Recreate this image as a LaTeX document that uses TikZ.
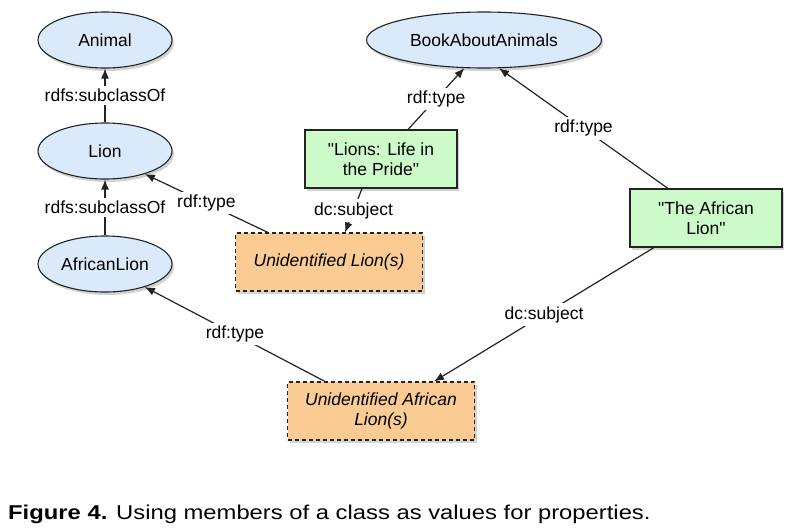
\documentclass[tikz,border=0pt]{standalone}
\usepackage{fontspec}
\setmainfont{Liberation Sans}
\usetikzlibrary{arrows,arrows.meta,shapes,positioning,shadows,calc}
\definecolor{classblue}{RGB}{218,234,250}
\definecolor{litgreen}{RGB}{204,250,200}
\definecolor{anonorange}{RGB}{250,204,148}
\definecolor{edgegray}{RGB}{35,35,35}
\tikzset{
  basic/.style  = {draw=edgegray, line width=1.1pt, font=\fontsize{17.5}{20.5}\selectfont,
                   drop shadow={opacity=0.35, shadow xshift=2pt, shadow yshift=-3pt}},
  class/.style  = {basic, ellipse, fill=classblue, minimum height=56pt},
  literal/.style = {basic, rectangle, fill=litgreen, align=center,
                   minimum width=152pt, minimum height=58pt},
  anon/.style   = {basic, rectangle, fill=anonorange, align=center, dashed,
                   dash pattern=on 4pt off 3pt, font=\fontsize{17.5}{20.5}\selectfont\itshape,
                   minimum width=187pt, minimum height=58pt},
  prop/.style   = {fill=white, inner sep=3pt, font=\fontsize{17.5}{20}\selectfont},
  link/.style   = {->, draw=edgegray, line width=1.2pt}
}
\begin{document}
\begin{tikzpicture}[x=1pt, y=-1pt, >={Latex[length=10pt,width=8pt]}]
\useasboundingbox (0,0) rectangle (797,528);

% classes
\node[class, minimum width=134pt] (animal) at (105,40) {Animal};
\node[class, minimum width=134pt] (lion) at (105,151) {Lion};
\node[class, minimum width=134pt] (africanlion) at (105,264) {AfricanLion};
\node[class, minimum width=235pt] (book) at (484,40) {BookAboutAnimals};

% literals and blank nodes
\node[literal] (lionsbook) at (381,159) {\textquotedbl Lions: Life in\\the Pride\textquotedbl};
\node[literal] (africanbook) at (706,218) {\textquotedbl The African\\Lion\textquotedbl};
\node[anon] (unlion) at (329,262) {Unidentified Lion(s)};
\node[anon] (unafrican) at (381,411) {Unidentified African\\Lion(s)};

% end points on the box edges
\coordinate (ul1) at ($(unlion.north west)+(33,0)$);
\coordinate (lb1) at ($(lionsbook.north)+(27,0)$);
\coordinate (lb2) at ($(lionsbook.south)+(-19,0)$);
\coordinate (ul2) at ($(unlion.north)+(16,0)$);
\coordinate (ab1) at ($(africanbook.north)+(-38,0)$);
\coordinate (ab2) at ($(africanbook.south)+(-52,0)$);
\coordinate (ua1) at ($(unafrican.north)+(-56,0)$);
\coordinate (ua2) at ($(unafrican.north)+(53,0)$);

% properties
\draw[link] (lion) -- node[prop] {rdfs:subclassOf} (animal);
\draw[link] (africanlion) -- node[prop] {rdfs:subclassOf} (lion);
\draw[link] (ul1) -- node[prop] {rdf:type} (lion.-30);
\draw[link] (lb1) -- node[prop] {rdf:type} (book.-125);
\draw[link] (ab1) -- node[prop] {rdf:type} (book.-62);
\draw[link] (lb2) -- node[prop] {dc:subject} (ul2);
\draw[link] (ab2) -- node[prop] {dc:subject} (ua2);
\draw[link] (ua1) -- node[prop] {rdf:type} (africanlion.-30);

% caption
\node[anchor=base west, inner sep=0pt, font=\fontsize{20}{24}\selectfont] (caption) at (8,519)
  {\scalebox{1.19}[1]{\textbf{Figure 4.} Using members of a class as values for properties.}};
\end{tikzpicture}
\end{document}
